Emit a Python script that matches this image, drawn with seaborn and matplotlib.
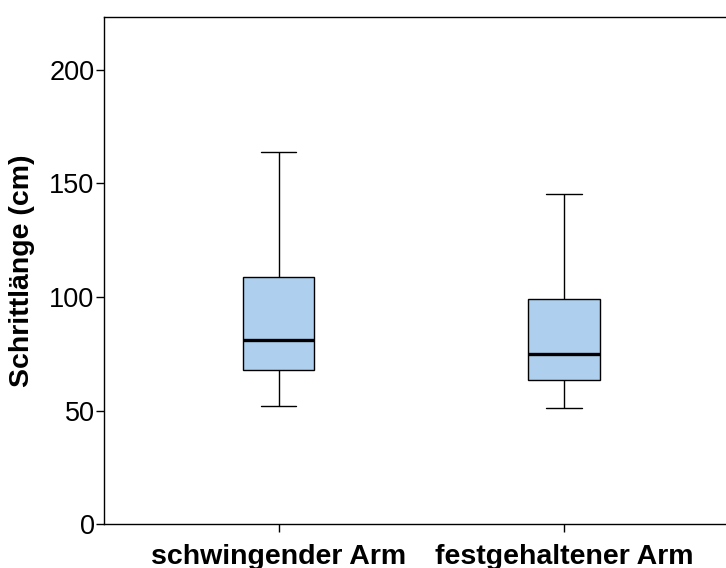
import matplotlib
matplotlib.use("Agg")
import matplotlib.pyplot as plt
import seaborn as sns
import pandas as pd

# Five-number summaries per condition (min, Q1, median, Q3, max) in cm
categories = ["schwingender Arm", "festgehaltener Arm"]
swinging = [52.1, 67.8, 80.9, 108.8, 163.6]
fixed = [51.1, 63.5, 75.0, 99.2, 145.1]
y_ticks = [0, 50, 100, 150, 200]

df = pd.DataFrame({
    "Bedingung": [categories[0]] * len(swinging) + [categories[1]] * len(fixed),
    "Schrittlänge": swinging + fixed,
})

sns.set_style("ticks")
plt.rcParams["font.family"] = ["Liberation Sans", "DejaVu Sans"]
plt.rcParams["text.color"] = "black"
plt.rcParams["axes.labelcolor"] = "black"
plt.rcParams["xtick.color"] = "black"
plt.rcParams["ytick.color"] = "black"

fig = plt.figure(figsize=(7.26, 5.68), dpi=100)
ax = fig.add_axes([104.3 / 726, 43.7 / 568, 634 / 726, 507 / 568])

sns.boxplot(
    data=df, x="Bedingung", y="Schrittlänge", order=categories,
    width=0.25, color="#aed0ee", saturation=1, whis=1.5,
    linecolor="black", linewidth=1.0, showfliers=False,
    medianprops={"linewidth": 2.4, "color": "black"},
    ax=ax,
)

ax.set_xlim(-0.61, 1.61)
ax.set_ylim(0, 223)
ax.set_yticks(y_ticks)
ax.set_yticklabels([str(t) for t in y_ticks], fontsize=19.5)
ax.set_xticks(range(len(categories)))
ax.set_xticklabels(categories, fontsize=20.5, fontweight="bold")
ax.set_xlabel("")
ax.set_ylabel("Schrittlänge (cm)", fontsize=20.5, fontweight="bold", labelpad=10)
ax.tick_params(axis="both", length=6, width=1.0, colors="black")
ax.tick_params(axis="x", pad=8)
ax.tick_params(axis="y", pad=1)
for side in ["left", "top", "bottom", "right"]:
    ax.spines[side].set_visible(True)
    ax.spines[side].set_color("black")
    ax.spines[side].set_linewidth(1.0)

fig.savefig("out.png", dpi=100)
